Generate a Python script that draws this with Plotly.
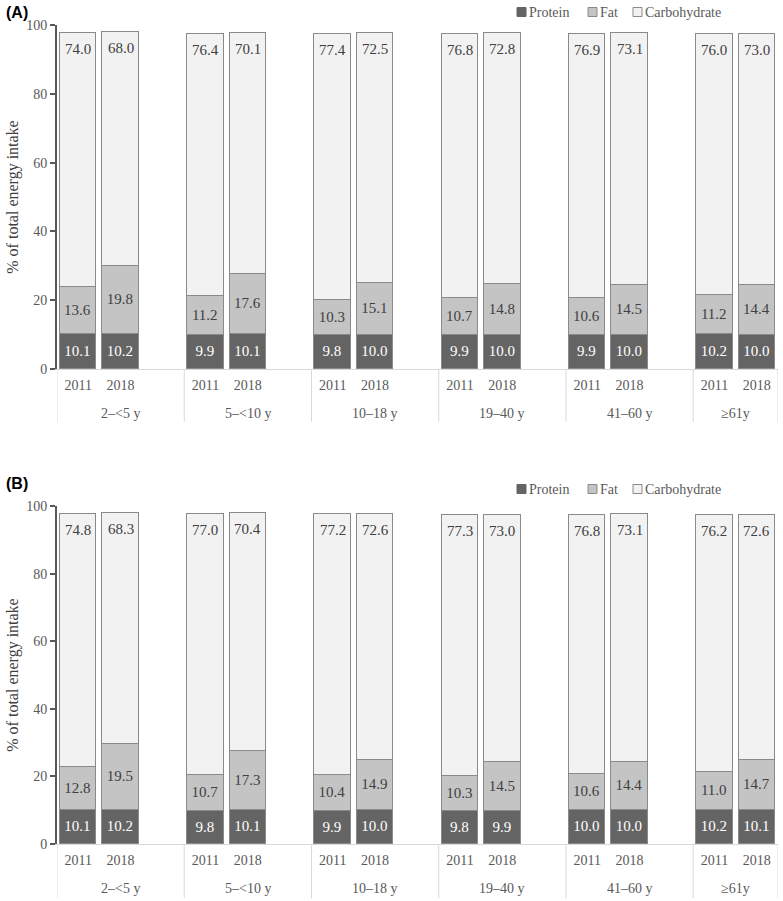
import plotly.graph_objects as go

# ---------------- data ----------------
age_groups = ["2–<5 y", "5–<10 y", "10–18 y", "19–40 y", "41–60 y", "≥61y"]
years = ["2011", "2018"]
series_names = ["Protein", "Fat", "Carbohydrate"]

# Panel A
a_protein_2011 = [10.1, 9.9, 9.8, 9.9, 9.9, 10.2]
a_protein_2018 = [10.2, 10.1, 10.0, 10.0, 10.0, 10.0]
a_fat_2011 = [13.6, 11.2, 10.3, 10.7, 10.6, 11.2]
a_fat_2018 = [19.8, 17.6, 15.1, 14.8, 14.5, 14.4]
a_carb_2011 = [74.0, 76.4, 77.4, 76.8, 76.9, 76.0]
a_carb_2018 = [68.0, 70.1, 72.5, 72.8, 73.1, 73.0]

# Panel B
b_protein_2011 = [10.1, 9.8, 9.9, 9.8, 10.0, 10.2]
b_protein_2018 = [10.2, 10.1, 10.0, 9.9, 10.0, 10.1]
b_fat_2011 = [12.8, 10.7, 10.4, 10.3, 10.6, 11.0]
b_fat_2018 = [19.5, 17.3, 14.9, 14.5, 14.4, 14.7]
b_carb_2011 = [74.8, 77.0, 77.2, 77.3, 76.8, 76.2]
b_carb_2018 = [68.3, 70.4, 72.6, 73.0, 73.1, 72.6]

y_ticks = [0, 20, 40, 60, 80, 100]

# ---------------- styling ----------------
SERIF = "Liberation Serif"
C_PROT = "#646464"
C_FAT = "#c4c4c4"
C_CARB = "#f2f2f2"
C_EDGE = "#8a8a8a"
C_TXT = "#404040"
C_AX = "#595959"
C_DIV = "#d9d9d9"

W, H = 783, 901
ML, MR = 57, 5
PW = W - ML - MR


def xp(px):                  # pixel x -> paper
    return (px - ML) / PW


def yp(py):                  # pixel y -> paper
    return 1 - py / H


n_slots = 3 * (len(age_groups) - 1) + 2


def interleave(v2011, v2018):
    xs, vals, labs = [], [], []
    for g in range(len(age_groups)):
        for j, v in enumerate((v2011[g], v2018[g])):
            xs.append(3 * g + j)
            vals.append(v)
            labs.append(years[j])
    return xs, vals, labs


fig = go.Figure()

panels = [
    ("x", "y", [(a_protein_2011, a_protein_2018), (a_fat_2011, a_fat_2018), (a_carb_2011, a_carb_2018)]),
    ("x2", "y2", [(b_protein_2011, b_protein_2018), (b_fat_2011, b_fat_2018), (b_carb_2011, b_carb_2018)]),
]
fills = [C_PROT, C_FAT, C_CARB]
tcols = ["white", C_TXT, C_TXT]

for xa, ya, series in panels:
    totals = None
    for k, (s11, s18) in enumerate(series):
        xs, vals, _ = interleave(s11, s18)
        totals = vals[:] if totals is None else [t + v for t, v in zip(totals, vals)]
        is_top = k == len(series) - 1
        fig.add_trace(go.Bar(
            x=xs, y=vals, name=series_names[k], xaxis=xa, yaxis=ya,
            width=0.86, showlegend=False,
            marker=dict(color=fills[k], line=dict(color=C_EDGE, width=1.5)),
            text=None if is_top else [f"{v:.1f}" for v in vals],
            textposition="inside", insidetextanchor="middle",
            textangle=0, constraintext="none",
            textfont=dict(family=SERIF, size=15, color=tcols[k]),
            hoverinfo="skip",
        ))
        if is_top:
            # top segment labels sit at the inside end of each bar
            for x, v, t in zip(xs, vals, totals):
                fig.add_annotation(text=f"{v:.1f}", xref=xa, yref=ya, x=x, y=t,
                                   yanchor="middle", yshift=-16, showarrow=False,
                                   font=dict(family=SERIF, size=15, color=C_TXT))

xs_ticks, _, year_labels = interleave(a_protein_2011, a_protein_2018)

dom_a = [yp(369), yp(25)]
dom_b = [yp(844), yp(506)]

common_x = dict(
    range=[-0.5, n_slots - 0.5], tickmode="array", tickvals=xs_ticks, ticktext=year_labels,
    showgrid=False, zeroline=False, showline=True, linecolor=C_DIV, linewidth=1,
    ticks="", tickfont=dict(family=SERIF, size=14, color=C_AX), ticklabelstandoff=3,
    automargin=False, fixedrange=True,
)
common_y = dict(
    range=[0, 100], tickvals=y_ticks, showgrid=False, zeroline=False,
    showline=True, linecolor=C_AX, linewidth=2, ticks="outside", ticklen=5,
    tickcolor=C_AX, tickwidth=1.5, tickfont=dict(family=SERIF, size=14, color=C_AX),
    automargin=False, fixedrange=True,
    title=dict(text="% of total energy intake", font=dict(family=SERIF, size=16, color=C_TXT), standoff=4),
)

fig.update_layout(
    width=W, height=H, barmode="stack", bargap=0,
    margin=dict(l=ML, r=MR, t=0, b=0),
    plot_bgcolor="white", paper_bgcolor="white",
    xaxis=dict(domain=[0, 1], anchor="y", **common_x),
    yaxis=dict(domain=dom_a, anchor="x", **common_y),
    xaxis2=dict(domain=[0, 1], anchor="y2", **common_x),
    yaxis2=dict(domain=dom_b, anchor="x2", **common_y),
    showlegend=False,
)

# panel titles
for txt, py in (("(A)", 12), ("(B)", 483)):
    fig.add_annotation(text=f"<b>{txt}</b>", xref="paper", yref="paper",
                       x=xp(4), xanchor="left", y=yp(py), yanchor="middle", showarrow=False,
                       font=dict(family="Liberation Sans", size=16, color="black"))

# legends (key squares + labels), one per panel
key_x = [517, 588, 633]
text_x = [527, 598, 643]
for cy in (12, 489):
    for k, name in enumerate(series_names):
        fig.add_shape(type="rect", xref="paper", yref="paper",
                      x0=xp(key_x[k]), x1=xp(key_x[k] + 9), y0=yp(cy + 4.5), y1=yp(cy - 4.5),
                      fillcolor=fills[k], line=dict(color=C_EDGE if k else C_PROT, width=1))
        fig.add_annotation(text=name, xref="paper", yref="paper", x=xp(text_x[k]), xanchor="left",
                           y=yp(cy), yanchor="middle", showarrow=False,
                           font=dict(family=SERIF, size=14, color=C_AX))

# age group labels and dividers
for xa, ya, base_py, bottom_py in (("x", "y", 369, 422), ("x2", "y2", 844, 898)):
    bounds = []
    for g, name in enumerate(age_groups):
        start = 3 * g - 0.5
        end = min(3 * g + 2.5, n_slots - 0.5)
        bounds.append(start)
        fig.add_annotation(text=name, xref=xa, yref=f"{ya} domain", x=(start + end) / 2,
                           y=0, yanchor="middle", yshift=-44, showarrow=False,
                           font=dict(family=SERIF, size=14, color=C_AX))
    bounds.append(n_slots - 0.5)
    for b in bounds:
        fig.add_shape(type="line", xref=xa, yref="paper", x0=b, x1=b,
                      y0=yp(base_py), y1=yp(bottom_py),
                      line=dict(color=C_DIV, width=1))

# remove the browser's default 8px body margin so the figure fills the window
fig.write_html("out.html", config={"displayModeBar": False},
               post_script="document.body.style.margin='0px';")
